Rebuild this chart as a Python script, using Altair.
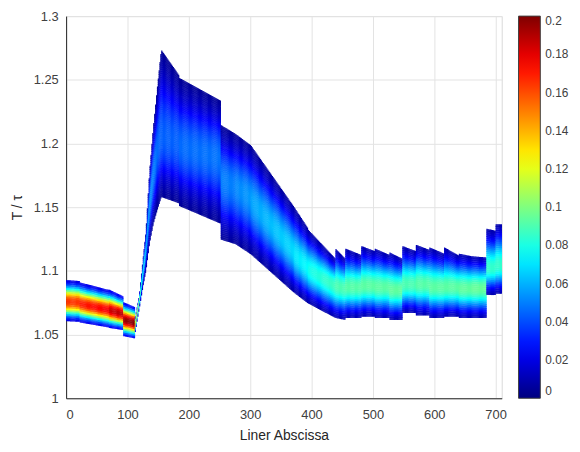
import math
import altair as alt
import pandas as pd

# ---- segment data (x range, band top/bottom, mode, peak density)
seg_start = [0, 22, 70, 93, 112, 119, 125, 130, 136, 142, 148, 155, 184, 252, 276, 301, 371, 394, 439,
             455, 481, 503, 527, 548, 570, 592, 616, 640, 661, 685, 700]
seg_end = [22, 70, 93, 112, 119, 125, 130, 136, 142, 148, 155, 184, 252, 276, 301, 371, 394, 439, 455,
           481, 503, 527, 548, 570, 592, 616, 640, 661, 685, 700, 710]
top_start = [1.0923, 1.0905, 1.0848, 1.075, 1.062, 1.080, 1.108, 1.131, 1.178, 1.212, 1.241, 1.273, 1.251,
             1.214, 1.207, 1.198, 1.150, 1.132, 1.117,
             1.117, 1.119, 1.117, 1.114, 1.119, 1.120, 1.118, 1.118, 1.113, 1.111, 1.1326, 1.136]
top_end = [1.0915, 1.0845, 1.0795, 1.071, 1.080, 1.108, 1.131, 1.178, 1.212, 1.241, 1.273, 1.253, 1.233,
           1.207, 1.198, 1.150, 1.133, 1.109, 1.109,
           1.112, 1.115, 1.112, 1.109, 1.115, 1.116, 1.113, 1.1115, 1.111, 1.110, 1.131, 1.136]
bot_start = [1.0605, 1.0595, 1.0552, 1.0488, 1.050, 1.070, 1.087, 1.100, 1.122, 1.137, 1.147, 1.158, 1.151,
             1.1245, 1.121, 1.113, 1.083, 1.0745, 1.063,
             1.063, 1.064, 1.063, 1.0615, 1.067, 1.065, 1.063, 1.064, 1.063, 1.063, 1.081, 1.082]
bot_end = [1.060, 1.0555, 1.0535, 1.047, 1.070, 1.087, 1.100, 1.122, 1.137, 1.147, 1.158, 1.153, 1.137,
           1.121, 1.113, 1.083, 1.0745, 1.063, 1.0615,
           1.063, 1.064, 1.063, 1.0615, 1.067, 1.065, 1.063, 1.064, 1.063, 1.063, 1.081, 1.082]
ctr_start = [1.0757, 1.074, 1.069, 1.0615, 1.0565, 1.075, 1.0975, 1.1155, 1.150, 1.1745, 1.194, 1.205, 1.198,
             1.172, 1.166, 1.155, 1.113, 1.101, 1.088,
             1.087, 1.088, 1.087, 1.085, 1.089, 1.089, 1.087, 1.087, 1.086, 1.086, 1.102, 1.104]
ctr_end = [1.075, 1.069, 1.066, 1.059, 1.075, 1.0975, 1.1155, 1.150, 1.1745, 1.194, 1.205, 1.200, 1.188,
           1.166, 1.157, 1.115, 1.102, 1.088, 1.086,
           1.087, 1.088, 1.087, 1.085, 1.089, 1.089, 1.087, 1.087, 1.086, 1.086, 1.102, 1.104]
peak_start = [0.165, 0.170, 0.185, 0.195, 0.140, 0.100, 0.075, 0.062, 0.055, 0.050, 0.047, 0.044, 0.046,
              0.050, 0.052, 0.057, 0.070, 0.078, 0.090,
              0.092, 0.093, 0.093, 0.094, 0.090, 0.092, 0.093, 0.093, 0.094, 0.095, 0.085, 0.085]
peak_end = [0.165, 0.178, 0.190, 0.200, 0.100, 0.075, 0.062, 0.055, 0.050, 0.047, 0.044, 0.044, 0.048,
            0.050, 0.055, 0.068, 0.075, 0.088, 0.090,
            0.092, 0.093, 0.093, 0.094, 0.090, 0.092, 0.093, 0.093, 0.094, 0.095, 0.085, 0.085]

x_ticks = [0, 100, 200, 300, 400, 500, 600, 700]
y_ticks = [1, 1.05, 1.1, 1.15, 1.2, 1.25, 1.3]
cbar_ticks = [0, 0.02, 0.04, 0.06, 0.08, 0.1, 0.12, 0.14, 0.16, 0.18, 0.2]
jet_stops = [0, 0.025, 0.05, 0.075, 0.1, 0.125, 0.15, 0.175, 0.2]
jet_colors = ["#00007f", "#0000ff", "#007fff", "#00ffff", "#7fff7f", "#ffff00", "#ff7f00", "#ff0000", "#7f0000"]

# ---- build the cell table from the segment arrays
DX, DY, K, P = 1.5, 0.0015, 2.0, 2.2
rows = []
for i in range(len(seg_start)):
    s, e = seg_start[i], seg_end[i]
    nc = max(1, math.ceil((e - s) / DX))
    w = (e - s) / nc
    for c in range(nc):
        t = (c + 0.5) / nc
        top = top_start[i] + t * (top_end[i] - top_start[i])
        bot = bot_start[i] + t * (bot_end[i] - bot_start[i])
        ctr = ctr_start[i] + t * (ctr_end[i] - ctr_start[i])
        pk = peak_start[i] + t * (peak_end[i] - peak_start[i])
        nr = max(1, math.ceil((top - bot) / DY))
        h = (top - bot) / nr
        x0 = s + c * w
        for r in range(nr):
            y0 = bot + r * h
            yc = y0 + h / 2
            sig = (top - ctr) / K if yc >= ctr else (ctr - bot) / K
            d = pk * math.exp(-0.5 * abs((yc - ctr) / sig) ** P)
            rows.append({"x": x0, "x2": x0 + w + 0.45, "y": y0, "y2": y0 + h * 1.35, "d": d})
df = pd.DataFrame(rows)

font = "Liberation Sans"
chart = alt.Chart(df).mark_rect(strokeWidth=0).encode(
    x=alt.X("x:Q", scale=alt.Scale(domain=[0, 710], nice=False, zero=False),
            axis=alt.Axis(values=x_ticks, title="Liner Abscissa", format="d", labelPadding=10, titlePadding=8)),
    x2="x2:Q",
    y=alt.Y("y:Q", scale=alt.Scale(domain=[1, 1.3], nice=False, zero=False),
            axis=alt.Axis(values=y_ticks, title="T / τ", format=".2~f", labelPadding=8, titlePadding=9)),
    y2="y2:Q",
    color=alt.Color("d:Q", scale=alt.Scale(domain=jet_stops, range=jet_colors, interpolate="rgb", clamp=True),
                    legend=alt.Legend(orient="none", legendX=457, legendY=0, direction="vertical",
                                      gradientLength=386, gradientThickness=22, values=cbar_ticks,
                                      format=".2~f", title=None, labelFont=font, labelFontSize=12,
                                      labelColor="#404040", labelOffset=5,
                                      gradientStrokeColor="#404040", gradientStrokeWidth=1)),
).properties(
    width=440, height=386,
    autosize=alt.AutoSizeParams(type="none"),
    padding={"left": 58.7, "top": 6, "right": 71, "bottom": 44},
).configure_axis(
    labelFont=font, labelFontSize=13, labelColor="#404040",
    titleFont=font, titleFontSize=14, titleColor="#262626", titleFontWeight="normal",
    domainColor="#262626", gridColor="#e3e3e3", ticks=False,
).configure_view(
    stroke="#d9d9d9"
)

chart.save("out.html", embed_options={"renderer": "svg", "actions": False})
